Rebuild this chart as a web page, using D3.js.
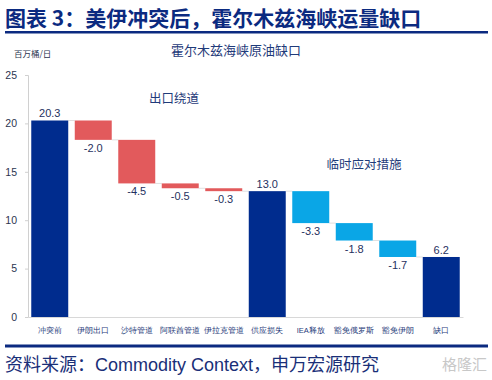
<!DOCTYPE html>
<html><head><meta charset="utf-8">
<script src="https://cdn.jsdelivr.net/npm/d3@7"></script>
<style>body{margin:0;background:#fff;}svg{display:block;font-family:"Noto Sans CJK SC","Noto Sans",sans-serif;}</style>
</head><body><svg id="c" width="492" height="380"></svg>
<script>
const categories = ["冲突前","伊朗出口","沙特管道","阿联酋管道","伊拉克管道","供应损失","IEA释放","豁免俄罗斯","豁免伊朗","缺口"];
const values = [20.3,-2.0,-4.5,-0.5,-0.3,13.0,-3.3,-1.8,-1.7,6.2];
const kinds = ["total","export","export","export","export","total","measure","measure","measure","total"];
const yTicks = [0,5,10,15,20,25];
const colors = {total:"#002c8e", export:"#e25a5c", measure:"#0aa6e6"};

const svg = d3.select("#c");
let run = 0;
const bars = values.map((v,i)=>{
  let y0,y1;
  if(kinds[i]==="total"){ y0=0; y1=v; run=v; }
  else { y0=run+v; y1=run; run=run+v; }
  return {cat:categories[i], v, y0, y1, kind:kinds[i]};
});

const x = d3.scaleBand().domain(categories).range([28,463]).paddingInner(0.15).paddingOuter(0.075);
const y = d3.scaleLinear().domain([0,25]).range([317,75]);

// title
svg.append("text").attr("x",5).attr("y",26).attr("fill","#0b2a80").attr("font-size",21).attr("font-weight","bold").text("图表 3：美伊冲突后，霍尔木兹海峡运量缺口");
svg.append("rect").attr("x",5).attr("y",31).attr("width",483).attr("height",2.5).attr("fill","#0b2a80");

svg.append("text").attr("x",14).attr("y",57).attr("fill","#2b3550").attr("font-size",8.5).text("百万桶/日");
svg.append("text").attr("x",236).attr("y",55).attr("text-anchor","middle").attr("fill","#1f3b7a").attr("font-size",13).text("霍尔木兹海峡原油缺口");

// axes
const ya = svg.append("g").attr("transform","translate(28,0)").call(d3.axisLeft(y).tickValues(yTicks).tickSize(3).tickPadding(8));
ya.select(".domain").attr("stroke","#d0d0d0");
ya.selectAll(".tick line").attr("stroke","#d0d0d0");
ya.selectAll("text").attr("fill","#2b3550").attr("font-size",10.5).attr("font-family","Liberation Sans, Arial, sans-serif");

const xa = svg.append("g").attr("transform","translate(0,317)").call(d3.axisBottom(x).tickSize(0).tickPadding(11));
xa.select(".domain").attr("stroke","#d8d8d8");
xa.selectAll("text").attr("fill","#1f3b7a").attr("font-size",7.5);

// connectors
for(let i=0;i<bars.length-1;i++){
  const lvl = bars[i].kind==="total"? bars[i].y1 : bars[i].y0;
  svg.append("line").attr("x1",x(bars[i].cat)+x.bandwidth()).attr("x2",x(bars[i+1].cat))
    .attr("y1",y(lvl)).attr("y2",y(lvl)).attr("stroke","#e0e0e0").attr("stroke-width",1);
}

// bars
svg.append("g").selectAll("rect").data(bars).join("rect")
  .attr("x",d=>x(d.cat)).attr("width",x.bandwidth())
  .attr("y",d=>y(d.y1)).attr("height",d=>y(d.y0)-y(d.y1))
  .attr("fill",d=>colors[d.kind]);

// value labels
svg.append("g").selectAll("text").data(bars).join("text")
  .attr("x",d=>x(d.cat)+x.bandwidth()/2)
  .attr("y",d=>d.kind==="total"? y(d.y1)-3 : y(d.y0)+12)
  .attr("text-anchor","middle").attr("fill","#1f3160").attr("font-size",11)
  .attr("font-family","Liberation Sans, Arial, sans-serif")
  .text(d=>d.v.toFixed(1));

svg.append("text").attr("x",174).attr("y",103).attr("text-anchor","middle").attr("fill","#1f3b7a").attr("font-size",12.5).text("出口绕道");
svg.append("text").attr("x",364).attr("y",169).attr("text-anchor","middle").attr("fill","#1f3b7a").attr("font-size",12.5).text("临时应对措施");

// footer
svg.append("rect").attr("x",5).attr("y",344.5).attr("width",483).attr("height",3).attr("fill","#0b2a80");
const src = svg.append("text").attr("x",5).attr("y",371).attr("fill","#1a2f78").attr("font-size",18);
src.append("tspan").text("资料来源：");
src.append("tspan").attr("font-family","Liberation Sans, Arial, sans-serif").attr("font-size",18).text("Commodity Context");
src.append("tspan").text("，申万宏源研究");
svg.append("text").attr("x",487).attr("y",370).attr("text-anchor","end").attr("fill","#c8c8c8").attr("font-size",15).text("格隆汇");
</script></body></html>
